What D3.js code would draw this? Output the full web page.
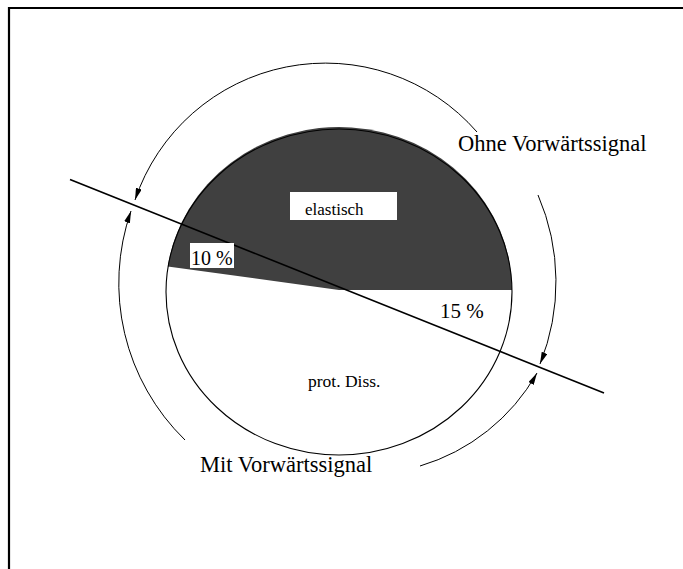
<!DOCTYPE html>
<html>
<head>
<meta charset="utf-8">
<script src="https://cdn.jsdelivr.net/npm/d3@7"></script>
<style>
  html, body { margin: 0; padding: 0; background: #fff; }
  svg { display: block; }
  text { font-family: "Liberation Serif", "Times New Roman", serif; fill: #000; }
</style>
</head>
<body>
<svg id="chart" width="683" height="569"></svg>
<script>
// Event classes and their share of the full circle
const sliceNames  = ["prot. Diss.", "elastisch"];
const sliceShares = [0.523, 0.477];
const sliceFills  = ["#ffffff", "#404040"];

// Fractions cut off by the forward-signal line
const overlapLabels = ["10 %", "15 %"];

// Labels of the two outer arcs
const signalLabels = ["Ohne Vorwärtssignal", "Mit Vorwärtssignal"];

const svg = d3.select("#chart");

// frame (top and left edge)
svg.append("path")
  .attr("d", "M9,569 L9,8 L683,8")
  .attr("fill", "none").attr("stroke", "#000").attr("stroke-width", 2.2);

// arrowhead marker
const defs = svg.append("defs");
defs.append("marker")
  .attr("id", "arr")
  .attr("viewBox", "0 0 12 6")
  .attr("refX", 12).attr("refY", 3)
  .attr("markerWidth", 12).attr("markerHeight", 6)
  .attr("markerUnits", "userSpaceOnUse")
  .attr("orient", "auto-start-reverse")
  .append("path").attr("d", "M0,0 L12,3 L0,6 Z").attr("fill", "#000");

// pie drawn on a unit circle, stretched into the ellipse
const cx = 339, cy = 292, rx = 173, ry = 163, R = 100;
const pie = d3.pie().sort(null).value(d => d)
  .startAngle(Math.PI / 2).endAngle(Math.PI / 2 + 2 * Math.PI);
const arc = d3.arc().innerRadius(0).outerRadius(R);

const g = svg.append("g")
  .attr("transform", `translate(${cx},${cy - 2}) scale(${rx / R},${ry / R})`);

g.selectAll("path.slice")
  .data(pie(sliceShares))
  .join("path")
  .attr("class", "slice")
  .attr("d", arc)
  .attr("fill", (d, i) => sliceFills[i])
  .attr("stroke", "none");

// ellipse outline
svg.append("ellipse")
  .attr("cx", cx).attr("cy", cy).attr("rx", rx).attr("ry", ry)
  .attr("fill", "none").attr("stroke", "#000").attr("stroke-width", 1.1);

// forward-signal separation line through the centre
const slope = 0.4;
const lineX = d3.scaleLinear().domain([-1, 1]).range([70, 604]);
const yAt = x => 287 + slope * (x - cx);
svg.append("line")
  .attr("x1", lineX(-1)).attr("y1", yAt(lineX(-1)))
  .attr("x2", lineX(1)).attr("y2", yAt(lineX(1)))
  .attr("stroke", "#000").attr("stroke-width", 1.6);

// outer arcs with arrowheads ending at the separation line
function arcPath(p0, p1, r, sweep) {
  return `M${p0[0]},${p0[1]} A${r},${r} 0 0 ${sweep} ${p1[0]},${p1[1]}`;
}
const outerArcs = [
  { d: arcPath([135, 200], [477, 132], 201, 1), start: true },
  { d: arcPath([538, 195], [540, 364], 219, 1), start: false },
  { d: arcPath([537, 373], [420, 466], 200, 1), start: true },
  { d: arcPath([185, 440], [131, 211], 219, 1), start: false }
];
svg.selectAll("path.outer")
  .data(outerArcs)
  .join("path")
  .attr("class", "outer")
  .attr("d", d => d.d)
  .attr("fill", "none").attr("stroke", "#000").attr("stroke-width", 1)
  .attr("marker-start", d => d.start ? "url(#arr)" : null)
  .attr("marker-end", d => d.start ? null : "url(#arr)");

// slice labels
svg.append("rect").attr("x", 290).attr("y", 192).attr("width", 107).attr("height", 28).attr("fill", "#fff");
svg.append("text").attr("x", 305).attr("y", 215).attr("font-size", 17).text(sliceNames[1]);
svg.append("text").attr("x", 308).attr("y", 387).attr("font-size", 17.5).text(sliceNames[0]);

// overlap labels
svg.append("rect").attr("x", 190).attr("y", 243).attr("width", 44).attr("height", 25).attr("fill", "#fff");
svg.append("text").attr("x", 191).attr("y", 265).attr("font-size", 20).text(overlapLabels[0]);
svg.append("text").attr("x", 440).attr("y", 318).attr("font-size", 21).text(overlapLabels[1]);

// arc labels
svg.append("text").attr("x", 458).attr("y", 151).attr("font-size", 22.5).text(signalLabels[0]);
svg.append("text").attr("x", 200).attr("y", 472).attr("font-size", 22.5).text(signalLabels[1]);
</script>
</body>
</html>
